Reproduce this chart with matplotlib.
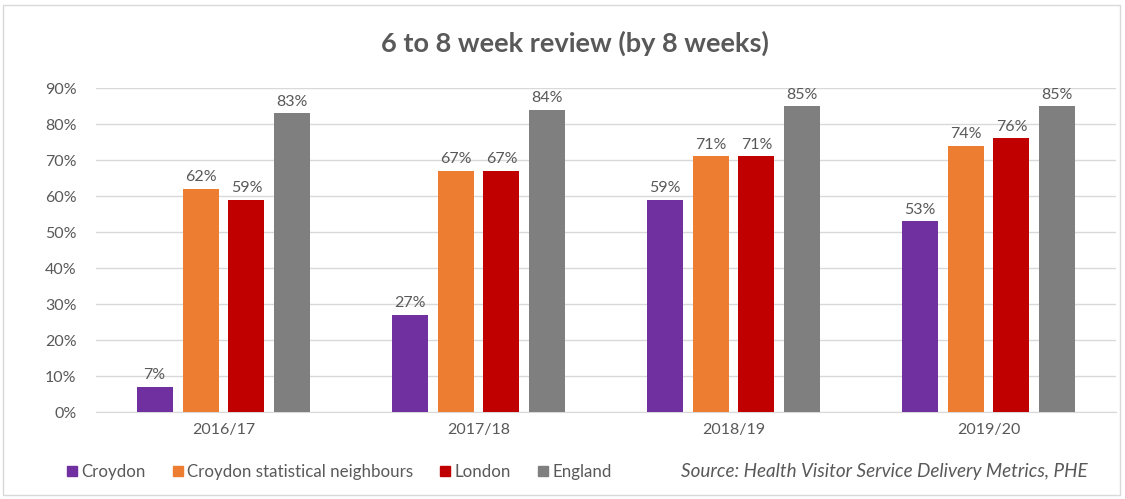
import matplotlib
matplotlib.use("Agg")
import matplotlib.pyplot as plt
import numpy as np
from matplotlib.patches import Rectangle
from matplotlib.lines import Line2D

plt.rcParams['font.family'] = ['Lato', 'DejaVu Sans']

years = ["2016/17", "2017/18", "2018/19", "2019/20"]
series_names = ["Croydon", "Croydon statistical neighbours", "London", "England"]
croydon = [7, 27, 59, 53]
neighbours = [62, 67, 71, 74]
london = [59, 67, 71, 76]
england = [83, 84, 85, 85]
colors = ["#7030A0", "#ED7D31", "#C00000", "#7F7F7F"]

fig = plt.figure(figsize=(11.25, 4.99), dpi=100)
ax = fig.add_axes([96 / 1125, 1 - 412 / 499, 1020 / 1125, 324 / 499])

x = np.arange(len(years))
pitch = 0.18
width = 0.141
txt = "#595959"
for i, (vals, col) in enumerate(zip([croydon, neighbours, london, england], colors)):
    pos = x + (i - 1.5) * pitch
    ax.bar(pos, [v / 100 for v in vals], width, color=col, zorder=3)
    for p, v in zip(pos, vals):
        ax.text(p, v / 100 + 0.012, f"{v}%", ha="center", va="bottom",
                fontsize=11.5, color=txt)

ax.set_xlim(-0.5, len(years) - 0.5)
ax.set_ylim(0, 0.9)
ax.set_yticks(np.arange(0, 0.91, 0.1))
ax.set_yticklabels([f"{int(round(t * 100))}%" for t in np.arange(0, 0.91, 0.1)])
ax.set_xticks(x)
ax.set_xticklabels(years)
ax.tick_params(axis="both", length=0, labelsize=11.5, colors=txt)
ax.tick_params(axis="y", pad=14)
ax.tick_params(axis="x", pad=8)
ax.yaxis.grid(True, color="#D9D9D9", linewidth=1, zorder=0)
for s in ["top", "right", "left"]:
    ax.spines[s].set_visible(False)
ax.spines["bottom"].set_color("#D9D9D9")

fig.text(575 / 1125, 1 - 43 / 499, "6 to 8 week review (by 8 weeks)", ha="center", va="center",
         fontsize=19.5, fontweight="bold", color=txt)

handles = [Line2D([], [], marker="s", linestyle="none", markersize=7, color=c) for c in colors]
fig.legend(handles, series_names, loc="center left", bbox_to_anchor=(48 / 1125, 1 - 472 / 499),
           ncol=4, frameon=False, fontsize=12.2, handletextpad=0.05, columnspacing=1.4,
           labelcolor=txt, handlelength=1)

fig.text(1088 / 1125, 1 - 472 / 499, "Source: Health Visitor Service Delivery Metrics, PHE",
         ha="right", va="center", fontsize=13.6, style="italic", color=txt)

fig.patches.append(Rectangle((3 / 1125, 4 / 499), 1117 / 1125, 490 / 499, transform=fig.transFigure,
                             fill=False, edgecolor="#D9D9D9", linewidth=1))

fig.savefig("out.png", dpi=100)
